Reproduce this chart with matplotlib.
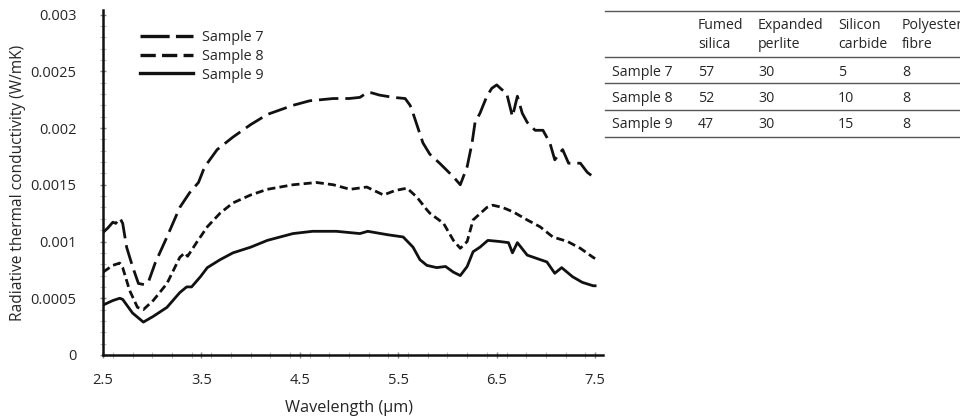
import matplotlib
matplotlib.use("Agg")
import matplotlib.pyplot as plt
from matplotlib.lines import Line2D
from matplotlib.ticker import MultipleLocator, FixedLocator

plt.rcParams['font.family'] = ['Open Sans', 'DejaVu Sans']
plt.rcParams['lines.scale_dashes'] = False

# ---- data ----
s7_x = [2.50, 2.55, 2.60, 2.63, 2.67, 2.70, 2.74, 2.80, 2.86, 2.92, 2.96, 3.03, 3.15, 3.28, 3.38,
        3.47, 3.52, 3.56, 3.66, 3.82, 4.00, 4.17, 4.30, 4.43, 4.60, 4.84, 5.00, 5.11, 5.18, 5.23,
        5.31, 5.45, 5.57, 5.62, 5.65, 5.70, 5.75, 5.82, 5.92, 6.06, 6.13, 6.20, 6.25, 6.28, 6.33,
        6.40, 6.45, 6.50, 6.55, 6.60, 6.66, 6.71, 6.76, 6.81, 6.89, 6.97, 7.04, 7.09, 7.17, 7.23,
        7.35, 7.42, 7.48, 7.50]
s7_y = [0.00108, 0.00112, 0.00117, 0.00116, 0.00121, 0.00116, 0.00095, 0.00078, 0.00063, 0.00062,
        0.00064, 0.00081, 0.00104, 0.00130, 0.00143, 0.00152, 0.00163, 0.00169, 0.00181, 0.00192,
        0.00203, 0.00212, 0.00216, 0.00220, 0.00224, 0.00226, 0.00226, 0.00227, 0.00231, 0.00231,
        0.00229, 0.00227, 0.00226, 0.00220, 0.00213, 0.00200, 0.00187, 0.00177, 0.00169, 0.00157,
        0.00150, 0.00166, 0.00187, 0.00205, 0.00213, 0.00228, 0.00235, 0.00238, 0.00234, 0.00231,
        0.00210, 0.00228, 0.00213, 0.00205, 0.00198, 0.00198, 0.00187, 0.00172, 0.00181, 0.00169,
        0.00169, 0.00161, 0.00157, 0.00158]

s8_x = [2.50, 2.55, 2.60, 2.67, 2.70, 2.77, 2.85, 2.91, 3.01, 3.15, 3.28, 3.33, 3.36, 3.45, 3.56,
        3.69, 3.82, 4.00, 4.17, 4.43, 4.67, 4.84, 5.01, 5.18, 5.35, 5.47, 5.59, 5.69, 5.79, 5.82,
        5.96, 6.06, 6.13, 6.20, 6.26, 6.40, 6.46, 6.56, 6.67, 6.81, 6.94, 7.07, 7.22, 7.35, 7.48,
        7.50]
s8_y = [0.00073, 0.00076, 0.00079, 0.00081, 0.00077, 0.00057, 0.00042, 0.00040, 0.00048, 0.00063,
        0.00086, 0.00090, 0.00087, 0.00099, 0.00113, 0.00125, 0.00134, 0.00141, 0.00146, 0.00150,
        0.00152, 0.00150, 0.00146, 0.00148, 0.00141, 0.00145, 0.00147, 0.00139, 0.00128, 0.00125,
        0.00116, 0.00101, 0.00094, 0.00100, 0.00119, 0.00130, 0.00132, 0.00130, 0.00126, 0.00119,
        0.00113, 0.00104, 0.00100, 0.00094, 0.00086, 0.00085]

s9_x = [2.50, 2.60, 2.67, 2.70, 2.80, 2.91, 3.01, 3.15, 3.28, 3.35, 3.40, 3.49, 3.56, 3.69, 3.82,
        4.00, 4.17, 4.43, 4.63, 4.87, 5.11, 5.19, 5.39, 5.55, 5.65, 5.72, 5.79, 5.89, 5.98, 6.06,
        6.13, 6.20, 6.26, 6.33, 6.41, 6.53, 6.62, 6.66, 6.71, 6.81, 6.91, 7.01, 7.09, 7.16, 7.27,
        7.37, 7.48, 7.50]
s9_y = [0.00044, 0.00048, 0.00050, 0.00049, 0.00037, 0.00029, 0.00034, 0.00042, 0.00055, 0.00060,
        0.00060, 0.00069, 0.00077, 0.00084, 0.00090, 0.00095, 0.00101, 0.00107, 0.00109, 0.00109,
        0.00107, 0.00109, 0.00106, 0.00104, 0.00095, 0.00084, 0.00079, 0.00077, 0.00078, 0.00073,
        0.00070, 0.00078, 0.00091, 0.00095, 0.00101, 0.00100, 0.00099, 0.00090, 0.00099, 0.00088,
        0.00085, 0.00082, 0.00072, 0.00077, 0.00069, 0.00064, 0.00061, 0.00061]

series_labels = ["Sample 7", "Sample 8", "Sample 9"]

x_ticks = [2.5, 3.5, 4.5, 5.5, 6.5, 7.5]
x_tick_labels = ["2.5", "3.5", "4.5", "5.5", "6.5", "7.5"]
y_ticks = [0, 0.0005, 0.001, 0.0015, 0.002, 0.0025, 0.003]
y_tick_labels = ["0", "0.0005", "0.001", "0.0015", "0.002", "0.0025", "0.003"]

table_header = ["", "Fumed\nsilica", "Expanded\nperlite", "Silicon\ncarbide", "Polyester\nfibre"]
table_rows = [["Sample 7", "57", "30", "5", "8"],
              ["Sample 8", "52", "30", "10", "8"],
              ["Sample 9", "47", "30", "15", "8"]]

W, H = 960, 418
fig = plt.figure(figsize=(W / 100, H / 100), dpi=100)
ax = fig.add_axes([103 / W, 1 - 355 / H, (603 - 103) / W, (355 - 10) / H])

ink = '#111111'
txt = '#262626'
lw = 2.0
ax.plot(s7_x, s7_y, color=ink, lw=lw, dashes=(14.0, 5.0))
ax.plot(s8_x, s8_y, color=ink, lw=lw, dashes=(5.8, 3.0))
ax.plot(s9_x, s9_y, color=ink, lw=lw)

ax.set_xlim(2.5, 7.58)
ax.set_ylim(0, 0.00304)
for s in ['top', 'right']:
    ax.spines[s].set_visible(False)
for s in ['left', 'bottom']:
    ax.spines[s].set_linewidth(1.8)
    ax.spines[s].set_color(ink)

ax.xaxis.set_major_locator(FixedLocator(x_ticks))
ax.set_xticklabels(x_tick_labels)
ax.yaxis.set_major_locator(FixedLocator(y_ticks))
ax.set_yticklabels(y_tick_labels)
ax.xaxis.set_minor_locator(MultipleLocator(0.2))
ax.yaxis.set_minor_locator(MultipleLocator(0.0001))
ax.tick_params(which='major', length=4, width=1, color='#888888', direction='inout',
               labelsize=10.5, labelcolor=txt)
ax.tick_params(axis='x', which='major', pad=11)
ax.tick_params(axis='y', which='major', pad=17)
ax.tick_params(which='minor', length=4, width=0.8, color='#bbbbbb', direction='inout')

fig.text(349 / W, 1 - 408 / H, "Wavelength (µm)", ha='center', va='center', fontsize=11.7, color=txt)
fig.text(18 / W, 1 - 183 / H, "Radiative thermal conductivity (W/mK)", ha='center', va='center',
         rotation=90, fontsize=11.2, color=txt)

handles = [Line2D([], [], color=ink, lw=2.4, dashes=(21, 4.5)),
           Line2D([], [], color=ink, lw=2.4, dashes=(11, 4.5)),
           Line2D([], [], color=ink, lw=2.4)]
leg = ax.legend(handles, series_labels, loc='upper left', frameon=False,
                bbox_to_anchor=(140 / W, 1 - 30 / H), bbox_transform=fig.transFigure,
                borderpad=0, borderaxespad=0, handlelength=3.7, handletextpad=0.6,
                labelspacing=0.26, fontsize=10.4)
for t in leg.get_texts():
    t.set_color(txt)

# ---- table ----
col_x = [612, 698, 758, 838, 902]
line_y = [11, 57, 83, 110, 137]
row_y = [72, 98, 124]
for ly in line_y:
    fig.add_artist(Line2D([605 / W, 1.0], [1 - ly / H, 1 - ly / H], transform=fig.transFigure,
                          color='#555555', lw=1.0))
for cx, h in zip(col_x, table_header):
    if h:
        fig.text(cx / W, 1 - 35 / H, h, ha='left', va='center', fontsize=10.2, color=txt,
                 linespacing=1.3)
for ry, row in zip(row_y, table_rows):
    for cx, v in zip(col_x, row):
        fig.text(cx / W, 1 - ry / H, v, ha='left', va='center', fontsize=10.2, color=txt)

fig.savefig("out.png", dpi=100)
